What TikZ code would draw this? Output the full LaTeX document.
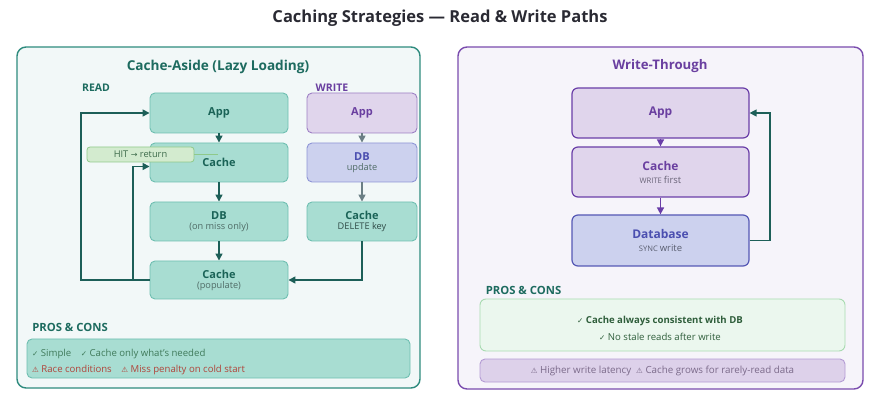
\documentclass[tikz,border=0pt]{standalone}
\usepackage{fontspec}
\setmainfont{Open Sans}
\newfontfamily\sym{DejaVu Sans}
\usetikzlibrary{arrows.meta}
\newcommand\subtxtfont{\mdseries\fontsize{9.2}{11}\selectfont}
\newcommand\symfont{\sym\fontsize{7.5}{9}\selectfont}
\definecolor{tealdark}{HTML}{1D6B5F}
\definecolor{tealborder}{HTML}{2E8B7E}
\definecolor{tealfill}{HTML}{F2F8F8}
\definecolor{boxteal}{HTML}{A8DDD2}
\definecolor{boxtealb}{HTML}{6FBFB1}
\definecolor{boxtealt}{HTML}{1A6357}
\definecolor{purfill}{HTML}{E0D5EC}
\definecolor{purb}{HTML}{9D7FC4}
\definecolor{purt}{HTML}{6A3FA0}
\definecolor{blufill}{HTML}{CCD1EE}
\definecolor{blub}{HTML}{8E95D6}
\definecolor{blut}{HTML}{4B4FB0}
\definecolor{grayarr}{HTML}{6B7F85}
\definecolor{arrteal}{HTML}{1D5F58}
\definecolor{rpanelb}{HTML}{7A4CAE}
\definecolor{rpanelf}{HTML}{F6F4FA}
\definecolor{rboxb}{HTML}{6A3EA8}
\definecolor{dbb}{HTML}{5558B5}
\definecolor{hitfill}{HTML}{D3EBCF}
\definecolor{hitb}{HTML}{8FC98A}
\definecolor{hitt}{HTML}{3D6B4A}
\definecolor{prot}{HTML}{3F7A5A}
\definecolor{cont}{HTML}{B0443A}
\definecolor{gfill}{HTML}{EBF7EE}
\definecolor{gb}{HTML}{A8DBB0}
\definecolor{gt}{HTML}{2F5E3B}
\definecolor{pfill}{HTML}{DDD1EA}
\definecolor{pb}{HTML}{B49BD4}
\definecolor{pt}{HTML}{7B6A8A}
\definecolor{subt}{HTML}{4F6B66}
\tikzset{
  panel/.style={rounded corners=9pt, line width=1.4pt},
  tbox/.style={draw=boxtealb, fill=boxteal, rounded corners=5pt, line width=0.9pt, text=boxtealt, align=center, font=\fontsize{11}{12}\selectfont\bfseries, inner sep=1pt},
  rbox/.style={draw=rboxb, fill=purfill, rounded corners=6pt, line width=1.2pt, text=purt, align=center, font=\fontsize{12}{14}\selectfont\bfseries, minimum width=177pt, inner sep=1pt},
  darr/.style={draw=arrteal, line width=1.5pt, -{Triangle[length=7pt,width=7pt]}},
  garr/.style={draw=grayarr, line width=1.5pt, -{Triangle[length=7pt,width=7pt]}},
  parr/.style={draw=rboxb, line width=1.5pt, -{Triangle[length=7pt,width=7pt]}},
  pclabel/.style={text=tealdark, font=\fontsize{11.3}{13}\selectfont\bfseries},
}
\begin{document}
\begin{tikzpicture}[x=1pt,y=-1pt]
\useasboundingbox[fill=white] (0,0) rectangle (881,403);
\node (title) at (440,18) {\fontsize{16.5}{18}\selectfont\bfseries\color[HTML]{2A2A33}Caching Strategies — Read \& Write Paths};

% left panel
\draw[panel, draw=tealborder, fill=tealfill] (17,47) rectangle (420,388);
\node[text=tealdark, font=\fontsize{13.6}{15}\selectfont\bfseries] (ltitle) at (218,67) {Cache-Aside (Lazy Loading)};
\node[text=tealdark, font=\fontsize{10.5}{12}\selectfont\bfseries] (readl) at (96,88) {READ};
\node[text=purt, font=\fontsize{10.5}{12}\selectfont\bfseries] (writel) at (332,88) {WRITE};

\node[tbox, minimum width=138pt, minimum height=40pt] (app) at (219,113) {App};
\node[tbox, minimum width=138pt, minimum height=39pt] (cache) at (219,162.5) {Cache};
\node[tbox, minimum width=138pt, minimum height=39pt] (db) at (219,221.5) {DB\\[-2pt]{\color{subt}\subtxtfont (on miss only)}};
\node[tbox, minimum width=138pt, minimum height=38pt] (pop) at (219,280) {Cache\\[-2pt]{\color{subt}\subtxtfont (populate)}};

\node[tbox, draw=purb, fill=purfill, text=purt, minimum width=110pt, minimum height=40pt] (wapp) at (362,113) {App};
\node[tbox, draw=blub, fill=blufill, text=blut, minimum width=110pt, minimum height=39pt] (wdb) at (362,162.5) {DB\\[-2pt]{\color{subt}\subtxtfont update}};
\node[tbox, minimum width=110pt, minimum height=39pt] (wdel) at (362,221.5) {Cache\\[-2pt]{\color[HTML]{2F4A46}\subtxtfont DELETE key}};

\draw[darr] (app) -- (cache);
\draw[darr] (cache) -- (db);
\draw[darr] (db) -- (pop);
\draw[garr] (wapp) -- (wdb);
\draw[garr] (wdb) -- (wdel);
\draw[darr] (wdel.south) |- (pop.east);

\coordinate (lx1) at (81,200);
\coordinate (lx2) at (133,280);
\draw[darr] (pop.west) -| (lx1) |- (app.west);
\draw[darr] (lx2) |- ([yshift=-4pt]cache.west);

\node[draw=hitb, fill=hitfill, rounded corners=3pt, line width=0.8pt, minimum width=107pt, minimum height=15pt, text=hitt, font=\fontsize{9.3}{10}\selectfont, inner sep=1pt] (hit) at (140.5,154.5) {HIT {\sym\fontsize{8}{9}\selectfont →} return};
\coordinate (hitend) at (218,154.5);
\draw[hitb, line width=0.7pt] (hit.east) -- (hitend);

\node[pclabel] (lpc) at (70,327) {PROS \& CONS};
\node[draw=boxtealb, fill=boxteal, rounded corners=5pt, line width=0.9pt, minimum width=383pt, minimum height=39pt] (lpbox) at (218.5,358.5) {};
\node[anchor=west, text=prot, font=\fontsize{9.6}{11}\selectfont, inner sep=0pt] (lpro) at (32,354) {{\symfont ✓} Simple\quad{\symfont ✓} Cache only what's needed};
\node[anchor=west, text=cont, font=\fontsize{9.6}{11}\selectfont, inner sep=0pt] (lcon) at (32,370) {{\symfont ⚠} Race conditions\quad{\symfont ⚠} Miss penalty on cold start};

% right panel
\draw[panel, draw=rpanelb, fill=rpanelf] (458,47) rectangle (863,389);
\node[text=purt, font=\fontsize{13.2}{15}\selectfont\bfseries] (rtitle) at (660,66) {Write-Through};
\node[rbox, minimum height=50pt] (rapp) at (660.5,113) {App};
\node[rbox, minimum height=50pt] (rcache) at (660.5,172) {Cache\\[-1pt]{\color[HTML]{6A6478}\mdseries\fontsize{7.6}{9}\selectfont WRITE \fontsize{9.5}{11}\selectfont first}};
\node[rbox, draw=dbb, fill=blufill, text=blut, minimum height=51pt] (rdb) at (660.5,240.5) {Database\\[-1pt]{\color[HTML]{5A5E70}\mdseries\fontsize{7.6}{9}\selectfont SYNC \fontsize{9.5}{11}\selectfont write}};
\draw[parr] (rapp) -- (rcache);
\draw[parr] (rcache) -- (rdb);
\coordinate (rx) at (770,180);
\draw[darr, line width=1.3pt] (rdb.east) -| (rx) |- (rapp.east);

\node[pclabel] (rpc) at (523.5,290) {PROS \& CONS};
\node[draw=gb, fill=gfill, rounded corners=6pt, line width=0.9pt, minimum width=365pt, minimum height=52pt] (rgbox) at (662.5,325) {};
\node[text=gt, font=\fontsize{9.6}{11}\selectfont\bfseries] (rp1) at (660,321) {{\symfont ✓} Cache always consistent with DB};
\node[text=gt, font=\fontsize{9.6}{11}\selectfont] (rp2) at (660,337) {{\symfont ✓} No stale reads after write};
\node[draw=pb, fill=pfill, rounded corners=5pt, line width=0.9pt, minimum width=365pt, minimum height=23pt, text=pt, font=\fontsize{9.8}{11}\selectfont] (rcbox) at (662.5,370.5) {{\symfont ⚠} Higher write latency\enspace{\symfont ⚠} Cache grows for rarely-read data};
\end{tikzpicture}
\end{document}
